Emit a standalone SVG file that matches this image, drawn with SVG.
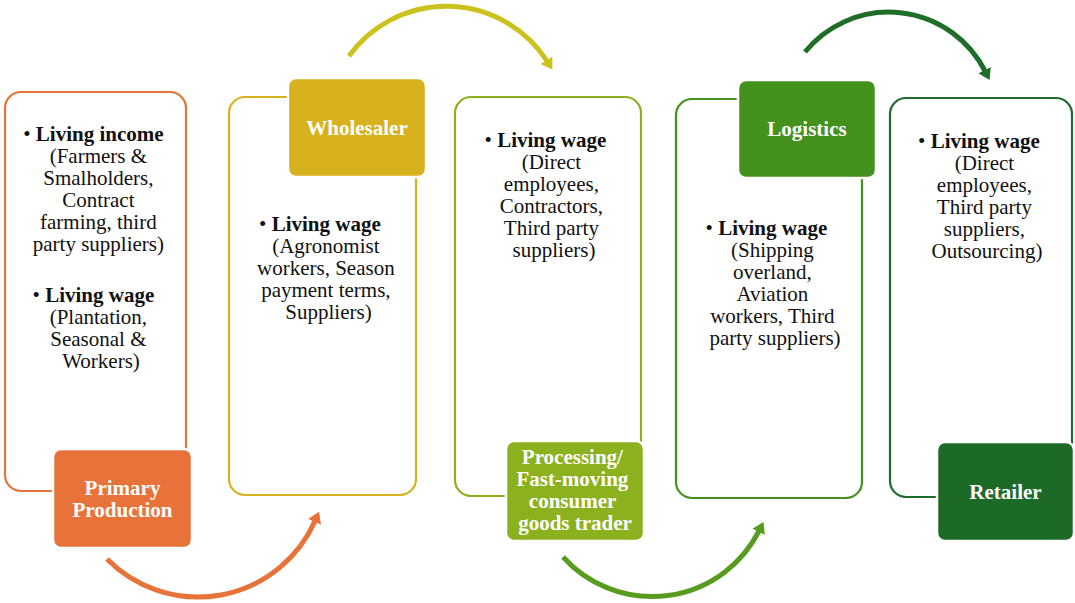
<svg xmlns="http://www.w3.org/2000/svg" width="1075" height="603" viewBox="0 0 1075 603">
  <style>
    .frame { fill: #ffffff; stroke-width: 2.2; }
    .tag { stroke: #ffffff; stroke-width: 2.5; }
    .body { font-family: "Liberation Serif", "Times New Roman", serif; font-size: 21px; fill: #111111; text-anchor: middle; }
    .body .b { font-weight: bold; }
    .label { font-family: "Liberation Serif", "Times New Roman", serif; font-size: 21px; font-weight: bold; fill: #ffffff; text-anchor: middle; }
    .flow { fill: none; stroke-width: 5; stroke-linecap: butt; }
  </style>
  <defs>
    <marker id="head-orange" markerUnits="userSpaceOnUse" viewBox="0 0 11 14" markerWidth="11" markerHeight="14" refX="1" refY="7" orient="auto">
      <path d="M0,0 L11,7 L0,14 z" fill="#E8733A"/>
    </marker>
    <marker id="head-yellow" markerUnits="userSpaceOnUse" viewBox="0 0 11 14" markerWidth="11" markerHeight="14" refX="1" refY="7" orient="auto">
      <path d="M0,0 L11,7 L0,14 z" fill="#CBC21E"/>
    </marker>
    <marker id="head-green" markerUnits="userSpaceOnUse" viewBox="0 0 11 14" markerWidth="11" markerHeight="14" refX="1" refY="7" orient="auto">
      <path d="M0,0 L11,7 L0,14 z" fill="#589C1F"/>
    </marker>
    <marker id="head-dark" markerUnits="userSpaceOnUse" viewBox="0 0 11 14" markerWidth="11" markerHeight="14" refX="1" refY="7" orient="auto">
      <path d="M0,0 L11,7 L0,14 z" fill="#1E6E27"/>
    </marker>
  </defs>

  <!-- curved arrows linking the stages -->
  <g id="connectors">
    <path class="flow" stroke="#E8733A" marker-end="url(#head-orange)" d="M107,559 A128,128 0 0 0 315,521"/>
    <path class="flow" stroke="#CBC21E" marker-end="url(#head-yellow)" d="M349,56 A120,120 0 0 1 547,61"/>
    <path class="flow" stroke="#589C1F" marker-end="url(#head-green)" d="M563,557 A120,120 0 0 0 759,531"/>
    <path class="flow" stroke="#1E6E27" marker-end="url(#head-dark)" d="M805,52 A108,108 0 0 1 985,71"/>
  </g>

  <!-- Primary Production -->
  <g id="primary-production">
    <rect class="frame" stroke="#E8733A" x="5" y="92" width="181" height="399" rx="16"/>
    <text class="body">
      <tspan x="96" y="141">• <tspan class="b">Living income</tspan></tspan>
      <tspan x="101" y="163">(Farmers &amp;</tspan>
      <tspan x="101" y="185">Smalholders,</tspan>
      <tspan x="101" y="207">Contract</tspan>
      <tspan x="101" y="229">farming, third</tspan>
      <tspan x="101" y="251">party suppliers)</tspan>
      <tspan x="96" y="302">• <tspan class="b">Living wage</tspan></tspan>
      <tspan x="101" y="324">(Plantation,</tspan>
      <tspan x="101" y="346">Seasonal &amp;</tspan>
      <tspan x="101" y="368">Workers)</tspan>
    </text>
    <rect class="tag" fill="#E8733A" x="53" y="449" width="139" height="99" rx="8"/>
    <text class="label"><tspan x="122.5" y="495">Primary</tspan><tspan x="122.5" y="517">Production</tspan></text>
  </g>

  <!-- Wholesaler -->
  <g id="wholesaler">
    <rect class="frame" stroke="#D8B11E" x="229" y="97" width="187" height="398" rx="16"/>
    <text class="body">
      <tspan x="322.5" y="231">• <tspan class="b">Living wage</tspan></tspan>
      <tspan x="328.5" y="253">(Agronomist</tspan>
      <tspan x="328.5" y="275">workers, Season</tspan>
      <tspan x="328.5" y="297">payment terms,</tspan>
      <tspan x="328.5" y="319">Suppliers)</tspan>
    </text>
    <rect class="tag" fill="#D8B11E" x="288" y="78" width="138" height="99" rx="8"/>
    <text class="label"><tspan x="357" y="135">Wholesaler</tspan></text>
  </g>

  <!-- Processing / FMCG trader -->
  <g id="processing">
    <rect class="frame" stroke="#8CB11F" x="455" y="97" width="186" height="399" rx="16"/>
    <text class="body">
      <tspan x="548" y="147">• <tspan class="b">Living wage</tspan></tspan>
      <tspan x="554" y="169">(Direct</tspan>
      <tspan x="554" y="191">employees,</tspan>
      <tspan x="554" y="213">Contractors,</tspan>
      <tspan x="554" y="235">Third party</tspan>
      <tspan x="554" y="257">suppliers)</tspan>
    </text>
    <rect class="tag" fill="#8CB11F" x="506" y="441" width="138" height="100" rx="8"/>
    <text class="label">
      <tspan x="575" y="464">Processing/</tspan>
      <tspan x="575" y="486">Fast-moving</tspan>
      <tspan x="575" y="508">consumer</tspan>
      <tspan x="575" y="530">goods trader</tspan>
    </text>
  </g>

  <!-- Logistics -->
  <g id="logistics">
    <rect class="frame" stroke="#44911E" x="676" y="99" width="186" height="399" rx="16"/>
    <text class="body">
      <tspan x="769" y="235">• <tspan class="b">Living wage</tspan></tspan>
      <tspan x="775" y="257">(Shipping</tspan>
      <tspan x="775" y="279">overland,</tspan>
      <tspan x="775" y="301">Aviation</tspan>
      <tspan x="775" y="323">workers, Third</tspan>
      <tspan x="775" y="345">party suppliers)</tspan>
    </text>
    <rect class="tag" fill="#44911E" x="738" y="80" width="138" height="98" rx="8"/>
    <text class="label"><tspan x="807" y="136">Logistics</tspan></text>
  </g>

  <!-- Retailer -->
  <g id="retailer">
    <rect class="frame" stroke="#1F6C2A" x="890" y="98" width="182" height="399" rx="16"/>
    <text class="body">
      <tspan x="981.5" y="148">• <tspan class="b">Living wage</tspan></tspan>
      <tspan x="987" y="170">(Direct</tspan>
      <tspan x="987" y="192">employees,</tspan>
      <tspan x="987" y="214">Third party</tspan>
      <tspan x="987" y="236">suppliers,</tspan>
      <tspan x="987" y="258">Outsourcing)</tspan>
    </text>
    <rect class="tag" fill="#1D6A27" x="937" y="442" width="137" height="99" rx="8"/>
    <text class="label"><tspan x="1005.5" y="498.5">Retailer</tspan></text>
  </g>
</svg>
